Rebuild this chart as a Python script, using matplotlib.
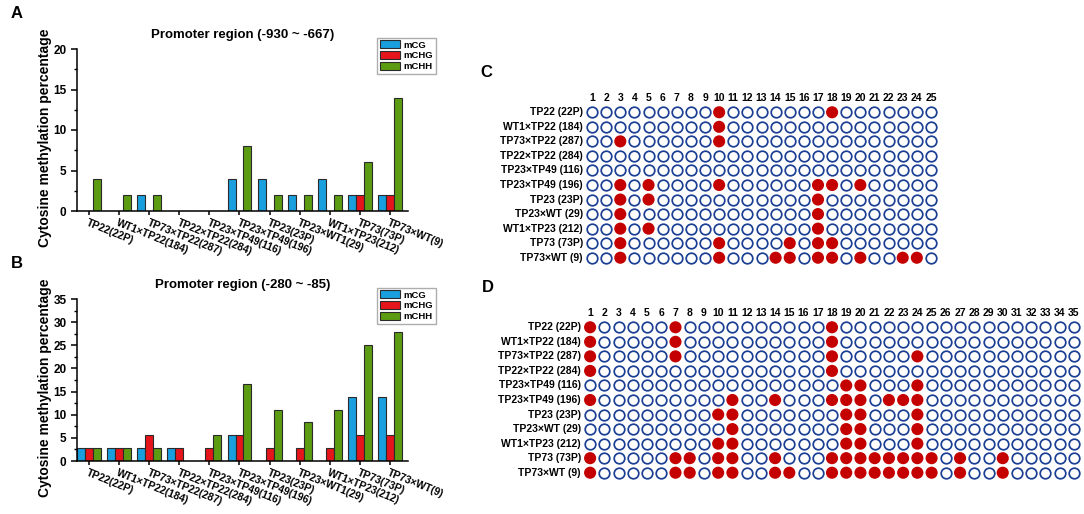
import numpy as np
import matplotlib as mpl

mpl.use('Agg')
import matplotlib.pyplot as plt
from matplotlib.ticker import MultipleLocator

plt.rcParams['font.family'] = ['Liberation Sans', 'DejaVu Sans']
plt.rcParams['font.weight'] = 'bold'
plt.rcParams['axes.labelweight'] = 'bold'
plt.rcParams['axes.titleweight'] = 'bold'

# bar chart data
groups = ['TP22(22P)', 'WT1×TP22(184)', 'TP73×TP22(287)', 'TP22×TP22(284)',
          'TP23×TP49(116)', 'TP23×TP49(196)', 'TP23(23P)', 'TP23×WT1(29)',
          'WT1×TP23(212)', 'TP73(73P)', 'TP73×WT(9)']
series = ['mCG', 'mCHG', 'mCHH']

a_cg = [0, 0, 2, 0, 0, 4, 4, 2, 4, 2, 2]
a_chg = [0, 0, 0, 0, 0, 0, 0, 0, 0, 2, 2]
a_chh = [4, 2, 2, 0, 0, 8, 2, 2, 2, 6, 14]

b_cg = [2.78, 2.78, 2.78, 2.78, 0, 5.56, 0, 0, 0, 13.89, 13.89]
b_chg = [2.78, 2.78, 5.56, 2.78, 2.78, 5.56, 2.78, 2.78, 2.78, 5.56, 5.56]
b_chh = [2.78, 2.78, 2.78, 0, 5.56, 16.67, 11.11, 8.33, 11.11, 25.0, 27.78]

# methylated sites per sample
samples = ['TP22 (22P)', 'WT1×TP22 (184)', 'TP73×TP22 (287)', 'TP22×TP22 (284)',
           'TP23×TP49 (116)', 'TP23×TP49 (196)', 'TP23 (23P)', 'TP23×WT (29)',
           'WT1×TP23 (212)', 'TP73 (73P)', 'TP73×WT (9)']
c_sites = 25
c_meth = [[10, 18], [10], [3, 10], [], [], [3, 5, 10, 17, 18, 20],
          [3, 5, 17], [3, 17], [3, 5, 17], [3, 10, 15, 17, 18],
          [3, 10, 14, 15, 17, 18, 20, 23, 24]]
d_sites = 35
d_meth = [[1, 7, 18], [1, 7, 18], [1, 7, 18, 24], [1, 18], [19, 20, 24],
          [1, 11, 14, 18, 19, 20, 22, 23, 24], [10, 11, 19, 20, 24],
          [11, 19, 20, 24], [10, 11, 19, 20, 24],
          [1, 7, 8, 10, 11, 14, 18, 19, 20, 21, 22, 23, 24, 25, 27, 30],
          [1, 7, 8, 10, 11, 14, 15, 18, 19, 20, 21, 22, 23, 24, 25, 27, 30]]

colors = ['#1a9fde', '#e5151b', '#5c9c12']
W, H = 1084, 514
fig = plt.figure(figsize=(W / 100, H / 100), dpi=100)


def px(left, top, right, bottom):
    return [left / W, 1 - bottom / H, (right - left) / W, (bottom - top) / H]


def bar_panel(rect, vals, ymax, title):
    ax = fig.add_axes(rect)
    x = np.arange(len(groups))
    w = 0.265
    for k, v in enumerate(vals):
        ax.bar(x + (k - 1) * w, v, w, color=colors[k], edgecolor='#2a2a2a',
               linewidth=0.8, label=series[k])
    ax.set_xlim(-0.4, 10.6)
    ax.set_ylim(0, ymax)
    ax.yaxis.set_major_locator(MultipleLocator(5))
    ax.yaxis.set_minor_locator(MultipleLocator(2.5))
    ax.set_xticks(x)
    ax.set_xticklabels(groups, rotation=-22, ha='left', va='top',
                       rotation_mode='anchor', fontsize=7.5)
    for s in ['top', 'right']:
        ax.spines[s].set_visible(False)
    for s in ['left', 'bottom']:
        ax.spines[s].set_linewidth(1.1)
    ax.tick_params(axis='y', labelsize=8.5, width=1.1, length=4)
    ax.tick_params(axis='y', which='minor', width=1.0, length=2)
    ax.tick_params(axis='x', width=1.1, length=3, pad=2)
    ax.set_ylabel('Cytosine methylation percentage', fontsize=10)
    ax.yaxis.set_label_coords(-0.075, 0.45)
    ax.set_title(title, fontsize=9.5, pad=8)
    ax.legend(loc='upper right', bbox_to_anchor=(1.085, 1.07), fontsize=6.8,
              frameon=True, fancybox=False, edgecolor='#999999',
              handlelength=2.1, handleheight=0.9, labelspacing=0.15,
              handletextpad=0.4, borderpad=0.3, borderaxespad=0)
    return ax


bar_panel(px(77, 49, 408, 211), [a_cg, a_chg, a_chh], 20,
          'Promoter region (-930 ~ -667)')
bar_panel(px(77, 299, 408, 461), [b_cg, b_chg, b_chh], 35,
          'Promoter region (-280 ~ -85)')


def dot_panel(rect, nsites, meth):
    ax = fig.add_axes(rect)
    ax.set_xlim(0.5, nsites + 0.5)
    ax.set_ylim(len(samples) - 0.5, -0.5)
    ax.axis('off')
    sites = np.arange(1, nsites + 1)
    for r, name in enumerate(samples):
        filled = np.isin(sites, meth[r])
        if (~filled).any():
            ax.scatter(sites[~filled], np.full((~filled).sum(), r), s=58,
                       facecolor='white', edgecolor='#1b3f93', linewidth=1.25,
                       clip_on=False)
        if filled.any():
            ax.scatter(sites[filled], np.full(filled.sum(), r), s=76,
                       facecolor='#c40000', edgecolor='none', clip_on=False)
        ax.text(0.35, r, name, ha='right', va='center', fontsize=7.5)
    for c in sites:
        ax.text(c, -0.95, str(c), ha='center', va='center', fontsize=7.5)
    return ax


dot_panel(px(585, 105, 938, 265), c_sites, c_meth)
dot_panel(px(583, 320, 1081, 480), d_sites, d_meth)

for lab, xx, yy in [('A', 17, 14), ('B', 17, 264), ('C', 486, 73), ('D', 488, 287)]:
    fig.text(xx / W, 1 - yy / H, lab, fontsize=12, ha='center', va='center')

plt.savefig('out.png', dpi=100)
